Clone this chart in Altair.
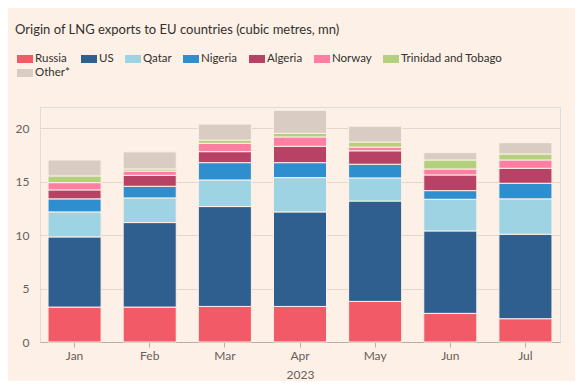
import altair as alt
import pandas as pd

months = ["Jan", "Feb", "Mar", "Apr", "May", "Jun", "Jul"]
sources = ["Russia", "US", "Qatar", "Nigeria", "Algeria", "Norway",
           "Trinidad and Tobago", "Other*"]
russia = [3.27, 3.27, 3.33, 3.33, 3.80, 2.68, 2.18]
us = [6.57, 7.91, 9.35, 8.85, 9.40, 7.72, 7.91]
qatar = [2.34, 2.31, 2.49, 3.21, 2.16, 2.96, 3.31]
nigeria = [1.22, 1.09, 1.62, 1.40, 1.28, 0.81, 1.46]
algeria = [0.84, 1.02, 1.03, 1.53, 1.26, 1.47, 1.40]
norway = [0.68, 0.40, 0.78, 0.88, 0.35, 0.56, 0.78]
trinidad = [0.63, 0.20, 0.30, 0.33, 0.47, 0.84, 0.56]
other = [1.49, 1.60, 1.50, 2.17, 1.48, 0.69, 1.06]
colors = ["#f25a68", "#2f5f8f", "#9ed3e3", "#2f8fce", "#b84265",
          "#fe7fa3", "#b3d07c", "#d9cdc3"]
y_ticks = [0, 5, 10, 15, 20]

series = [russia, us, qatar, nigeria, algeria, norway, trinidad, other]
rows = []
for si, (name, vals) in enumerate(zip(sources, series)):
    for m, v in zip(months, vals):
        rows.append({"month": m, "source": name, "value": v, "order": si})
df = pd.DataFrame(rows)

BG = "#fdf0e6"

chart = alt.Chart(df).mark_bar(stroke=BG, strokeWidth=1).encode(
    x=alt.X("month:N", sort=months, title="2023",
            scale=alt.Scale(paddingInner=0.294, paddingOuter=0.107),
            axis=alt.Axis(labelAngle=0, tickSize=5, domainColor="#b8aea6",
                          tickColor="#b8aea6", labelPadding=3, titlePadding=8)),
    y=alt.Y("value:Q", stack="zero", title=None,
            scale=alt.Scale(domain=[0, 22], nice=False),
            axis=alt.Axis(values=y_ticks, domain=False, ticks=False,
                          labelPadding=11, gridColor="#e3d6cb")),
    color=alt.Color("source:N", sort=sources,
                    scale=alt.Scale(domain=sources, range=colors),
                    legend=alt.Legend(
                        title=None, orient="none", legendX=-23, legendY=-56,
                        direction="horizontal", columns=7, gridAlign="none",
                        symbolType="M-1,-0.5H1V0.5H-1Z", symbolSize=256,
                        symbolStrokeWidth=0, labelFontSize=11.5,
                        labelColor="#33302e", labelOffset=2,
                        columnPadding=11, rowPadding=0)),
    order=alt.Order("order:Q", sort="ascending"),
).properties(
    width=520, height=235,
    title=alt.TitleParams("Origin of LNG exports to EU countries (cubic metres, mn)",
                          anchor="start", fontSize=13, fontWeight="normal",
                          color="#33302e", dx=0, offset=14),
    background=BG,
    autosize=alt.AutoSizeParams(type="none"),
    padding={"left": 32, "top": 99, "right": 15, "bottom": 39},
).configure_view(stroke=None).configure(
    font="Lato"
).configure_axis(
    labelFontSize=12, labelColor="#66605c", titleFontSize=12,
    titleColor="#66605c", titleFontWeight="normal"
)

chart.save("out.html", embed_options={"renderer": "svg", "actions": False})
